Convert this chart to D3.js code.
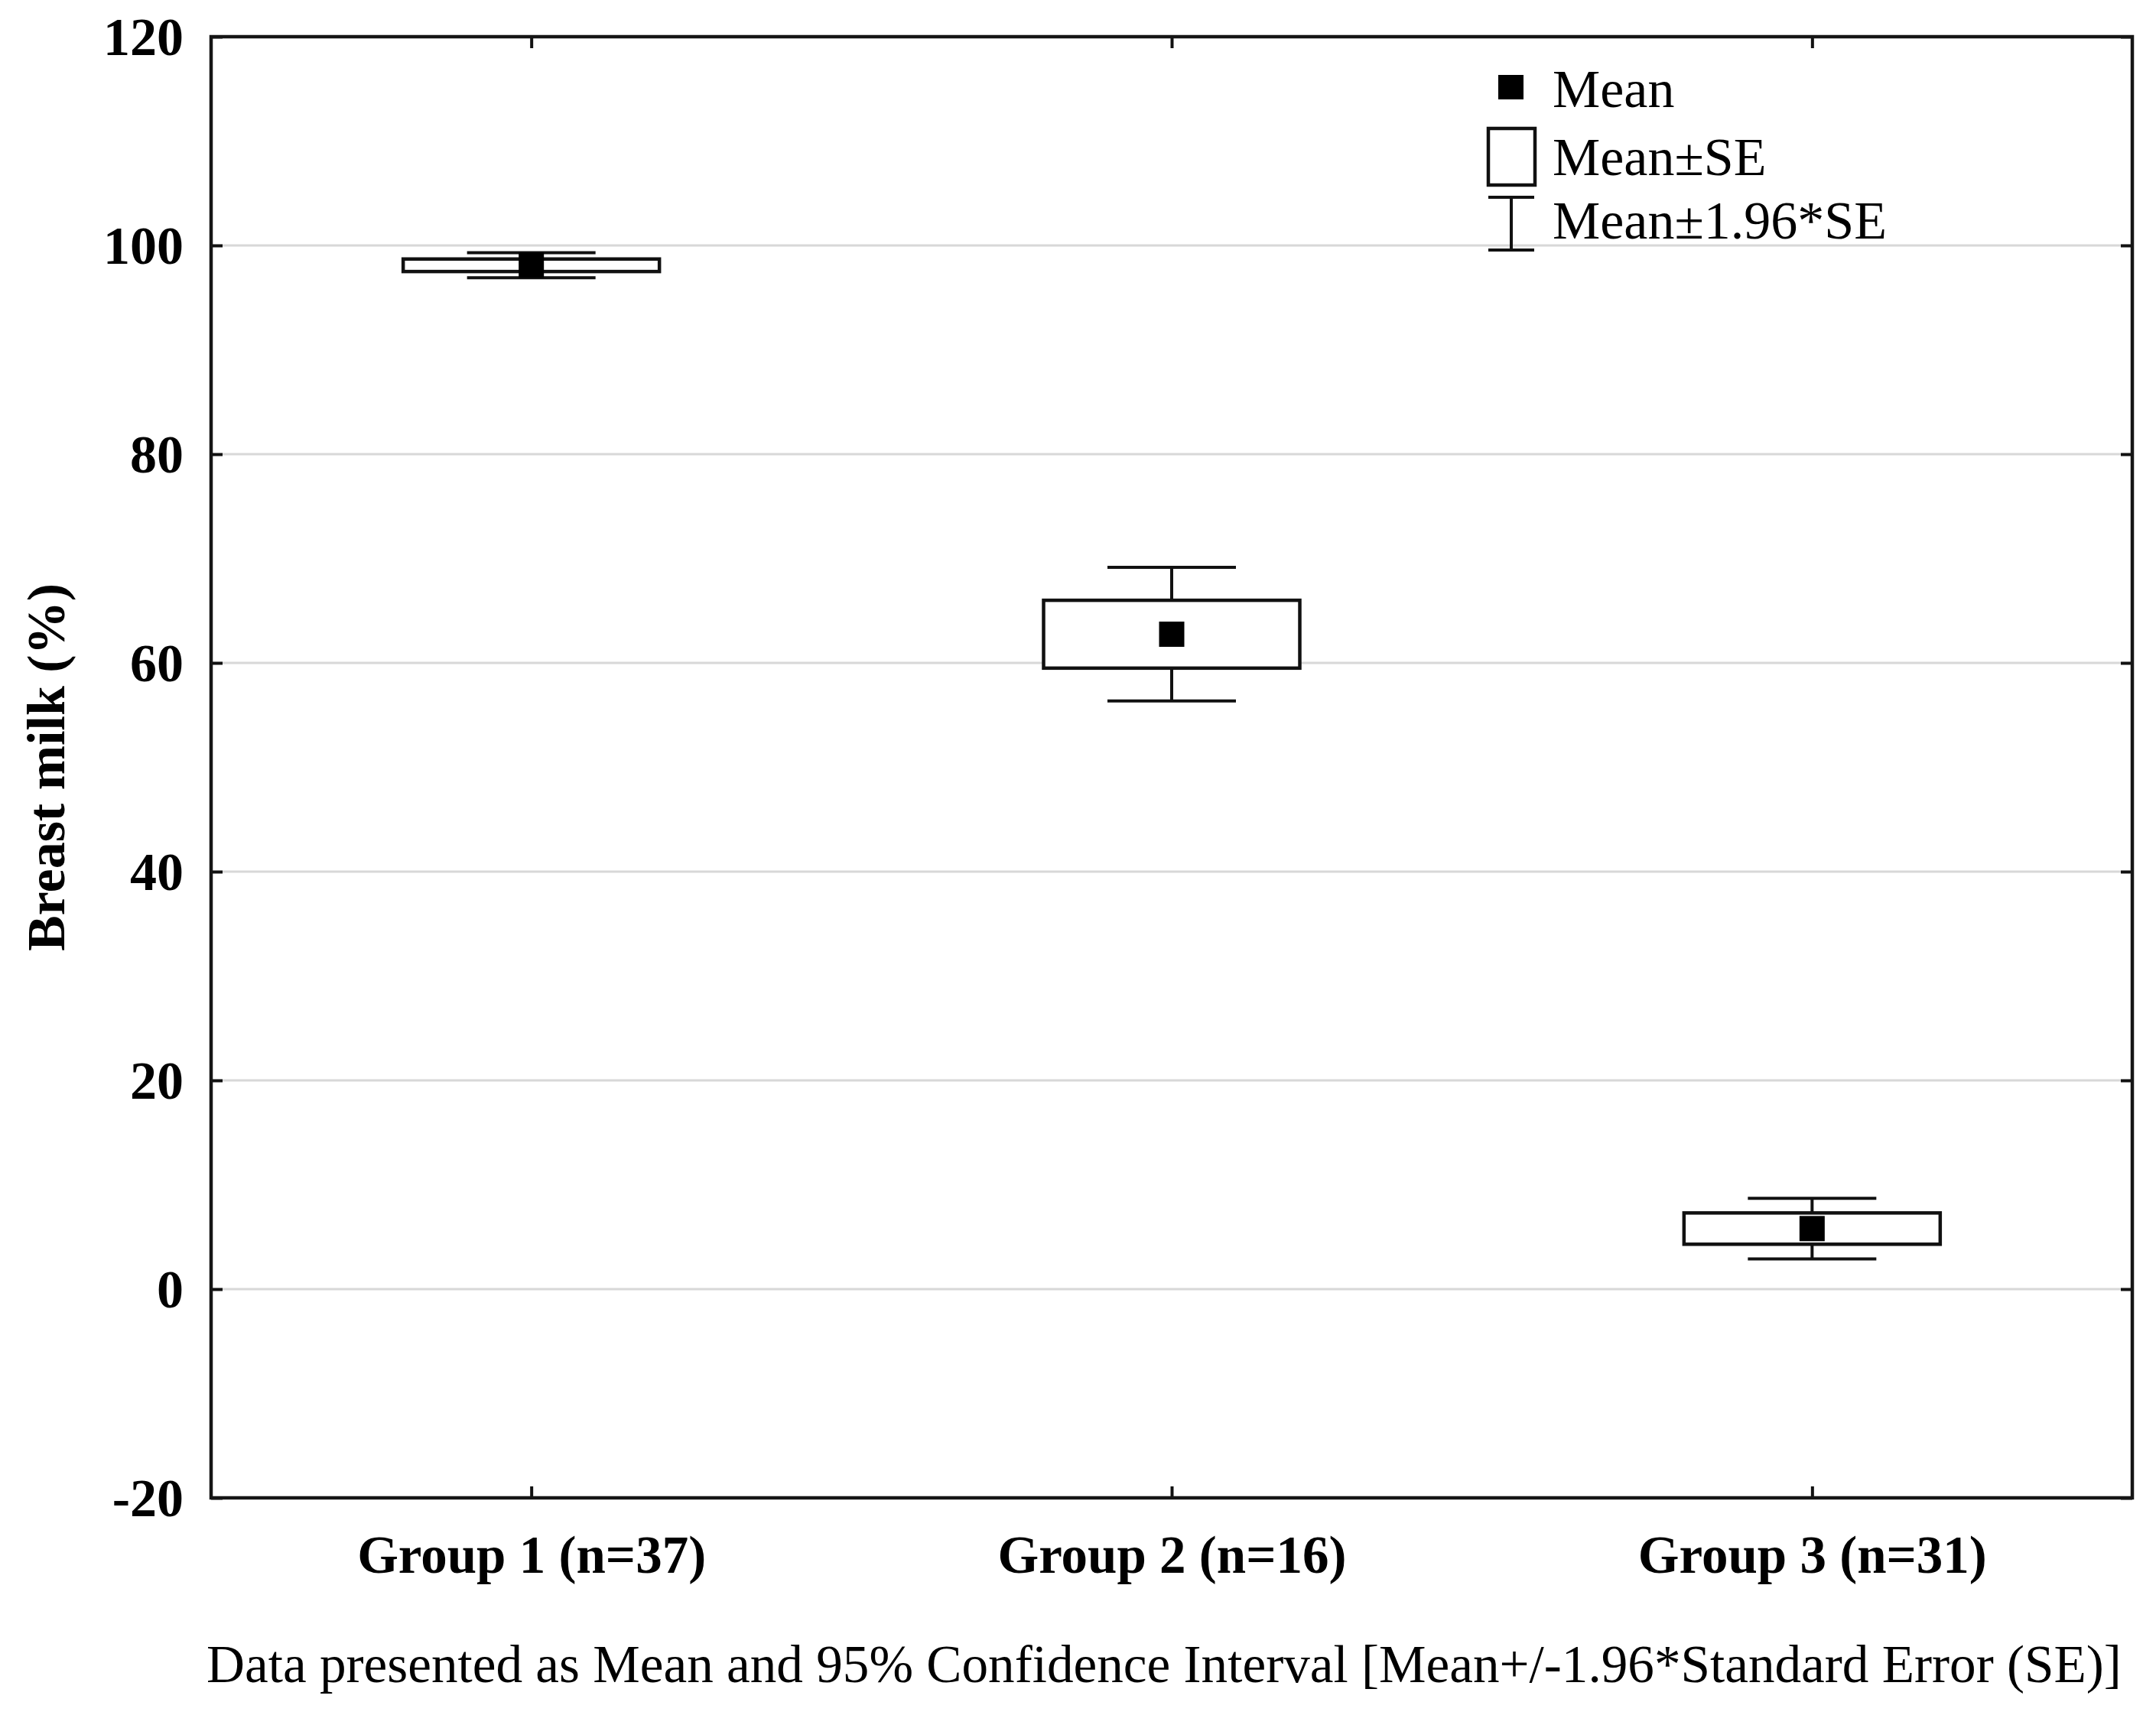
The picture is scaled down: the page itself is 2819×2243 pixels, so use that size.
<!DOCTYPE html>
<html>
<head>
<meta charset="utf-8">
<script src="https://cdn.jsdelivr.net/npm/d3@7"></script>
<style>
  html, body { margin: 0; padding: 0; background: #fff; }
  svg { display: block; }
  text { font-family: "Liberation Serif", "Times New Roman", serif; fill: #000; }
</style>
</head>
<body>
<svg id="chart" width="2819" height="2243"></svg>
<script>
// ---- data ----
const categories = ["Group 1 (n=37)", "Group 2 (n=16)", "Group 3 (n=31)"];
const means   = [98.1, 62.75, 5.8];
const seLow   = [97.5, 59.5, 4.3];
const seHigh  = [98.7, 66.0, 7.3];
const ciLow   = [96.9, 56.35, 2.9];
const ciHigh  = [99.3, 69.15, 8.7];
const yTicks  = [-20, 0, 20, 40, 60, 80, 100, 120];
const yTickLabels = ["-20", "0", "20", "40", "60", "80", "100", "120"];
const gridTicks = [0, 20, 40, 60, 80, 100];
const legendLabels = ["Mean", "Mean\u00B1SE", "Mean\u00B11.96*SE"];
const yTitle = "Breast milk (%)";
const footnote = "Data presented as Mean and 95% Confidence Interval [Mean+/-1.96*Standard Error (SE)]";

// ---- layout ----
const svg = d3.select("#chart");
const L = 276, R = 2788, T = 48, B = 1959;
const x = d3.scalePoint().domain(categories).range([L, R]).padding(0.5);
const y = d3.scaleLinear().domain([-20, 120]).range([B, T]);

const rows = categories.map((c, i) => ({
  c, mean: means[i], sl: seLow[i], sh: seHigh[i], cl: ciLow[i], ch: ciHigh[i]
}));

// gridlines
svg.append("g").selectAll("line").data(gridTicks).join("line")
  .attr("x1", L).attr("x2", R)
  .attr("y1", d => y(d)).attr("y2", d => y(d))
  .attr("stroke", "#d8d8d8").attr("stroke-width", 3);

// axes
const gl = svg.append("g").attr("transform", `translate(${L},0)`)
  .call(d3.axisLeft(y).tickValues(yTicks).tickSize(-15).tickPadding(36)
    .tickFormat(d => yTickLabels[yTicks.indexOf(d)]));
gl.selectAll("text").attr("font-size", 70).attr("font-weight", "bold")
  .attr("dy", "0.33em").style("font-family", '"Liberation Serif", serif').attr("fill", "#000");

const gr = svg.append("g").attr("transform", `translate(${R},0)`)
  .call(d3.axisRight(y).tickValues(yTicks).tickSize(-15).tickFormat(""));

const gt = svg.append("g").attr("transform", `translate(0,${T})`)
  .call(d3.axisTop(x).tickSize(-15).tickFormat(""));

const gb = svg.append("g").attr("transform", `translate(0,${B})`)
  .call(d3.axisBottom(x).tickSize(-15).tickPadding(0));
gb.selectAll("text").attr("font-size", 69).attr("font-weight", "bold")
  .attr("dy", null).attr("y", 98).style("font-family", '"Liberation Serif", serif').attr("fill", "#000");

[gl, gr, gt, gb].forEach(g => {
  g.select(".domain").remove();
  g.selectAll(".tick line").attr("stroke", "#111").attr("stroke-width", 4);
});

// frame
svg.append("rect").attr("x", L).attr("y", T).attr("width", R - L).attr("height", B - T)
  .attr("fill", "none").attr("stroke", "#151515").attr("stroke-width", 4.5);

// marks
const boxW = 335, capW = 168, sq = 33;
const g = svg.append("g");
const grp = g.selectAll("g").data(rows).join("g");
grp.append("line").attr("x1", d => x(d.c)).attr("x2", d => x(d.c))
  .attr("y1", d => y(d.ch)).attr("y2", d => y(d.cl))
  .attr("stroke", "#111").attr("stroke-width", 4);
grp.append("line").attr("x1", d => x(d.c) - capW / 2).attr("x2", d => x(d.c) + capW / 2)
  .attr("y1", d => y(d.ch)).attr("y2", d => y(d.ch))
  .attr("stroke", "#111").attr("stroke-width", 4);
grp.append("line").attr("x1", d => x(d.c) - capW / 2).attr("x2", d => x(d.c) + capW / 2)
  .attr("y1", d => y(d.cl)).attr("y2", d => y(d.cl))
  .attr("stroke", "#111").attr("stroke-width", 4);
grp.append("rect").attr("x", d => x(d.c) - boxW / 2).attr("width", boxW)
  .attr("y", d => y(d.sh)).attr("height", d => y(d.sl) - y(d.sh))
  .attr("fill", "#fff").attr("stroke", "#111").attr("stroke-width", 4.5);
grp.append("rect").attr("x", d => x(d.c) - sq / 2).attr("width", sq)
  .attr("y", d => y(d.mean) - sq / 2).attr("height", sq)
  .attr("fill", "#000");

// y-axis title
svg.append("text").attr("transform", `translate(84,${(T + B) / 2}) rotate(-90)`)
  .attr("text-anchor", "middle").attr("font-size", 70).attr("font-weight", "bold")
  .text(yTitle);

// footnote
svg.append("text").attr("x", 270).attr("y", 2200)
  .attr("font-size", 69.2).text(footnote);

// legend
const lg = svg.append("g");
const lx = 1976;
lg.append("rect").attr("x", lx - 17).attr("y", 98).attr("width", 33).attr("height", 32).attr("fill", "#000");
lg.append("rect").attr("x", lx - 30).attr("y", 168).attr("width", 61).attr("height", 74)
  .attr("fill", "#fff").attr("stroke", "#111").attr("stroke-width", 4.5);
lg.append("line").attr("x1", lx).attr("x2", lx).attr("y1", 258).attr("y2", 327).attr("stroke", "#111").attr("stroke-width", 4);
lg.append("line").attr("x1", lx - 30).attr("x2", lx + 30).attr("y1", 258).attr("y2", 258).attr("stroke", "#111").attr("stroke-width", 4);
lg.append("line").attr("x1", lx - 30).attr("x2", lx + 30).attr("y1", 327).attr("y2", 327).attr("stroke", "#111").attr("stroke-width", 4);
const legBase = [140, 229, 312];
lg.selectAll("text.leg").data(legendLabels).join("text").attr("class", "leg")
  .attr("x", 2030).attr("y", (d, i) => legBase[i]).attr("font-size", 70).text(d => d);
</script>
</body>
</html>
